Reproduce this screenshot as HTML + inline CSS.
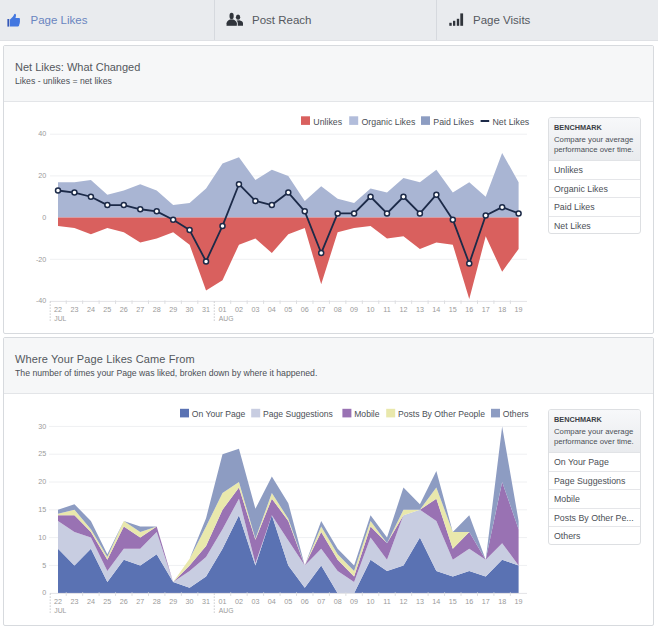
<!DOCTYPE html>
<html><head><meta charset="utf-8"><style>
*{box-sizing:border-box}
html,body{margin:0;padding:0;width:658px;height:632px;overflow:hidden;background:#fff;font-family:"Liberation Sans", sans-serif}
.tabs{position:absolute;left:0;top:0;width:658px;height:41px;background:#e9ebee;border-bottom:1px solid #dfe1e5}
.div{position:absolute;top:0;width:1px;height:40px;background:#d6d9de}
.tt{position:absolute;top:13px;font-size:11.5px;line-height:14px;color:#55595f;white-space:nowrap}
.ic{position:absolute}
.panel{position:absolute;left:3px;width:651px;height:289px;border:1px solid #d7dade;border-radius:2px;background:#fff}
.ph{position:absolute;left:0;top:0;width:649px;height:56px;background:#f6f7f8;border-bottom:1px solid #e3e5e8}
.pt{position:absolute;left:11px;font-size:11px;color:#54575d;white-space:nowrap}
.ps{position:absolute;left:11px;font-size:8.7px;color:#4b4f56;white-space:nowrap}
.bm{position:absolute;left:548px;width:93px;border:1px solid #dddfe2;border-radius:3px;background:#fff;overflow:hidden}
.bmh{height:43px;background:linear-gradient(#f7f8fa,#e9ebee);border-bottom:1px solid #e1e3e6;padding:5px 0 0 5px;color:#4b4f56}
.bmh b{display:block;font-size:7.3px;line-height:9px;color:#3b3f46;letter-spacing:0}
.bmh span{display:block;font-size:7.75px;line-height:10px;margin-top:3px}
.bmr{height:18.6px;line-height:18px;border-bottom:1px solid #e5e6e9;padding-left:5px;font-size:8.8px;color:#4b4f56;white-space:nowrap}
.bmr:last-child{border-bottom:0}
svg.main{position:absolute;left:0;top:0}
svg text{font-family:"Liberation Sans", sans-serif}
</style></head><body>
<div class="tabs">
<div class="div" style="left:214px"></div><div class="div" style="left:436px"></div>
</div>
<svg class="ic" style="left:6px;top:13px" width="16" height="15" viewBox="0 0 16 15">
<rect x="1.4" y="6" width="1.9" height="7.6" fill="#3558b8"/>
<path d="M4 6.4 L6.8 3.8 Q7.8 2.6 8.2 1.2 Q8.6 0.6 9.2 0.8 Q10.2 1.3 10 2.8 L9.5 5 L13.2 5 Q14.2 5.2 14 6.2 L13.8 7.2 Q14.2 7.6 13.9 8.4 Q14.1 9 13.7 9.7 Q13.9 10.4 13.4 11 L13 12.8 Q12.7 13.6 11.8 13.6 L4 13.6 Z" fill="#4377e0"/>
</svg><svg class="ic" style="left:225px;top:12px" width="20" height="15" viewBox="0 0 20 15">
<ellipse cx="13.05" cy="5.15" rx="2.15" ry="2.6" fill="#30343b"/>
<path d="M12.7 13.7 L12.7 11.2 C12.7 10 12.2 9.1 11.5 8.5 L14.5 8.2 C16 8.6 18 9.4 18 11.2 L18 13.7 Z" fill="#30343b"/>
<path d="M1.6 13.7 L1.6 11.2 C1.6 9.2 3.6 8.1 5.2 7.4 L8 7.4 C9.6 8.1 11.8 9.2 11.8 11.2 L11.8 13.7 Z" fill="#30343b" stroke="#e9ebee" stroke-width="0.9"/>
<path d="M1.6 13.7 L1.6 11.2 C1.6 9.2 3.6 8.1 5.2 7.4 L8 7.4 C9.6 8.1 11.8 9.2 11.8 11.2 L11.8 13.7 Z" fill="#30343b"/>
<ellipse cx="6.6" cy="4.0" rx="2.1" ry="3.3" fill="#30343b"/>
</svg><svg class="ic" style="left:448px;top:12px" width="17" height="15" viewBox="0 0 17 15">
<rect x="1.3" y="10.8" width="2.4" height="3" fill="#30343b"/>
<rect x="5" y="8.8" width="2.3" height="5" fill="#30343b"/>
<rect x="8.8" y="6.8" width="2.4" height="7" fill="#30343b"/>
<rect x="12.3" y="1.4" width="2.8" height="12.4" fill="#30343b"/>
</svg>
<div class="tt" style="left:30.5px;color:#6985c0">Page Likes</div>
<div class="tt" style="left:252px">Post Reach</div>
<div class="tt" style="left:473px">Page Visits</div>
<div class="panel" style="top:45px"><div class="ph"></div>
<div class="pt" style="top:15px">Net Likes: What Changed</div>
<div class="ps" style="top:29.5px">Likes - unlikes = net likes</div>
</div>
<div class="panel" style="top:337px"><div class="ph"></div>
<div class="pt" style="top:15px;letter-spacing:0.12px">Where Your Page Likes Came From</div>
<div class="ps" style="top:29.5px">The number of times your Page was liked, broken down by where it happened.</div>
</div>
<div class="bm" style="top:117px;height:117.4px"><div class="bmh"><b>BENCHMARK</b><span>Compare your average<br>performance over time.</span></div><div class="bmr">Unlikes</div><div class="bmr">Organic Likes</div><div class="bmr">Paid Likes</div><div class="bmr">Net Likes</div></div>
<div class="bm" style="top:409px;height:136px"><div class="bmh"><b>BENCHMARK</b><span>Compare your average<br>performance over time.</span></div><div class="bmr">On Your Page</div><div class="bmr">Page Suggestions</div><div class="bmr">Mobile</div><div class="bmr">Posts By Other Pe...</div><div class="bmr">Others</div></div>
<svg class="main" width="658" height="632" viewBox="0 0 658 632">
<line x1="50" y1="134.2" x2="527" y2="134.2" stroke="#eff0f2" stroke-width="1"/>
<line x1="50" y1="175.9" x2="527" y2="175.9" stroke="#eff0f2" stroke-width="1"/>
<line x1="50" y1="259.3" x2="527" y2="259.3" stroke="#eff0f2" stroke-width="1"/>
<text x="46.3" y="136.4" text-anchor="end" font-size="7.2" fill="#9a9a9a">40</text>
<text x="46.3" y="178.1" text-anchor="end" font-size="7.2" fill="#9a9a9a">20</text>
<text x="46.3" y="219.8" text-anchor="end" font-size="7.2" fill="#9a9a9a">0</text>
<text x="46.3" y="261.5" text-anchor="end" font-size="7.2" fill="#9a9a9a">-20</text>
<text x="46.3" y="303.2" text-anchor="end" font-size="7.2" fill="#9a9a9a">-40</text>
<path d="M58 182.16 L74.45 182.16 L90.9 180.07 L107.35 194.66 L123.8 190.5 L140.25 184.24 L156.7 190.5 L173.15 205.09 L189.6 203 L206.05 188.41 L222.5 163.39 L238.95 157.13 L255.4 180.07 L271.85 169.64 L288.3 175.9 L304.75 200.92 L321.2 186.32 L337.65 198.83 L354.1 203 L370.55 188.41 L387 192.58 L403.45 177.98 L419.9 182.16 L436.35 169.64 L452.8 192.58 L469.25 182.16 L485.7 196.75 L502.15 152.96 L518.6 182.16 L518.6 217.6 L502.15 217.6 L485.7 217.6 L469.25 217.6 L452.8 217.6 L436.35 217.6 L419.9 217.6 L403.45 217.6 L387 217.6 L370.55 217.6 L354.1 217.6 L337.65 217.6 L321.2 217.6 L304.75 217.6 L288.3 217.6 L271.85 217.6 L255.4 217.6 L238.95 217.6 L222.5 217.6 L206.05 217.6 L189.6 217.6 L173.15 217.6 L156.7 217.6 L140.25 217.6 L123.8 217.6 L107.35 217.6 L90.9 217.6 L74.45 217.6 L58 217.6 Z" fill="#a9b5d3"/>
<path d="M58 217.6 L74.45 217.6 L90.9 217.6 L107.35 217.6 L123.8 217.6 L140.25 217.6 L156.7 217.6 L173.15 217.6 L189.6 217.6 L206.05 217.6 L222.5 217.6 L238.95 217.6 L255.4 217.6 L271.85 217.6 L288.3 217.6 L304.75 217.6 L321.2 217.6 L337.65 217.6 L354.1 217.6 L370.55 217.6 L387 217.6 L403.45 217.6 L419.9 217.6 L436.35 217.6 L452.8 217.6 L469.25 217.6 L485.7 217.6 L502.15 217.6 L518.6 217.6 L518.6 248.88 L502.15 271.81 L485.7 236.37 L469.25 298.91 L452.8 244.7 L436.35 242.62 L419.9 248.88 L403.45 236.37 L387 238.45 L370.55 225.94 L354.1 228.03 L337.65 232.19 L321.2 284.32 L304.75 228.03 L288.3 234.28 L271.85 253.04 L255.4 238.45 L238.95 244.7 L222.5 280.15 L206.05 290.57 L189.6 244.7 L173.15 232.19 L156.7 238.45 L140.25 242.62 L123.8 232.19 L107.35 228.03 L90.9 234.28 L74.45 228.03 L58 225.94 Z" fill="#d9605e"/>
<path d="M58 190.5 L74.45 192.58 L90.9 196.75 L107.35 205.09 L123.8 205.09 L140.25 209.26 L156.7 211.34 L173.15 219.69 L189.6 230.11 L206.05 261.38 L222.5 225.94 L238.95 184.24 L255.4 200.92 L271.85 205.09 L288.3 192.58 L304.75 211.34 L321.2 253.04 L337.65 213.43 L354.1 213.43 L370.55 196.75 L387 213.43 L403.45 196.75 L419.9 213.43 L436.35 194.66 L452.8 219.69 L469.25 263.47 L485.7 215.51 L502.15 207.17 L518.6 213.43" fill="none" stroke="#1c2a48" stroke-width="1.8" stroke-linejoin="round"/>
<circle cx="58" cy="190.5" r="2.5" fill="#fff" stroke="#1c2a48" stroke-width="1.5"/>
<circle cx="74.45" cy="192.58" r="2.5" fill="#fff" stroke="#1c2a48" stroke-width="1.5"/>
<circle cx="90.9" cy="196.75" r="2.5" fill="#fff" stroke="#1c2a48" stroke-width="1.5"/>
<circle cx="107.35" cy="205.09" r="2.5" fill="#fff" stroke="#1c2a48" stroke-width="1.5"/>
<circle cx="123.8" cy="205.09" r="2.5" fill="#fff" stroke="#1c2a48" stroke-width="1.5"/>
<circle cx="140.25" cy="209.26" r="2.5" fill="#fff" stroke="#1c2a48" stroke-width="1.5"/>
<circle cx="156.7" cy="211.34" r="2.5" fill="#fff" stroke="#1c2a48" stroke-width="1.5"/>
<circle cx="173.15" cy="219.69" r="2.5" fill="#fff" stroke="#1c2a48" stroke-width="1.5"/>
<circle cx="189.6" cy="230.11" r="2.5" fill="#fff" stroke="#1c2a48" stroke-width="1.5"/>
<circle cx="206.05" cy="261.38" r="2.5" fill="#fff" stroke="#1c2a48" stroke-width="1.5"/>
<circle cx="222.5" cy="225.94" r="2.5" fill="#fff" stroke="#1c2a48" stroke-width="1.5"/>
<circle cx="238.95" cy="184.24" r="2.5" fill="#fff" stroke="#1c2a48" stroke-width="1.5"/>
<circle cx="255.4" cy="200.92" r="2.5" fill="#fff" stroke="#1c2a48" stroke-width="1.5"/>
<circle cx="271.85" cy="205.09" r="2.5" fill="#fff" stroke="#1c2a48" stroke-width="1.5"/>
<circle cx="288.3" cy="192.58" r="2.5" fill="#fff" stroke="#1c2a48" stroke-width="1.5"/>
<circle cx="304.75" cy="211.34" r="2.5" fill="#fff" stroke="#1c2a48" stroke-width="1.5"/>
<circle cx="321.2" cy="253.04" r="2.5" fill="#fff" stroke="#1c2a48" stroke-width="1.5"/>
<circle cx="337.65" cy="213.43" r="2.5" fill="#fff" stroke="#1c2a48" stroke-width="1.5"/>
<circle cx="354.1" cy="213.43" r="2.5" fill="#fff" stroke="#1c2a48" stroke-width="1.5"/>
<circle cx="370.55" cy="196.75" r="2.5" fill="#fff" stroke="#1c2a48" stroke-width="1.5"/>
<circle cx="387" cy="213.43" r="2.5" fill="#fff" stroke="#1c2a48" stroke-width="1.5"/>
<circle cx="403.45" cy="196.75" r="2.5" fill="#fff" stroke="#1c2a48" stroke-width="1.5"/>
<circle cx="419.9" cy="213.43" r="2.5" fill="#fff" stroke="#1c2a48" stroke-width="1.5"/>
<circle cx="436.35" cy="194.66" r="2.5" fill="#fff" stroke="#1c2a48" stroke-width="1.5"/>
<circle cx="452.8" cy="219.69" r="2.5" fill="#fff" stroke="#1c2a48" stroke-width="1.5"/>
<circle cx="469.25" cy="263.47" r="2.5" fill="#fff" stroke="#1c2a48" stroke-width="1.5"/>
<circle cx="485.7" cy="215.51" r="2.5" fill="#fff" stroke="#1c2a48" stroke-width="1.5"/>
<circle cx="502.15" cy="207.17" r="2.5" fill="#fff" stroke="#1c2a48" stroke-width="1.5"/>
<circle cx="518.6" cy="213.43" r="2.5" fill="#fff" stroke="#1c2a48" stroke-width="1.5"/>
<line x1="50" y1="301.4" x2="527" y2="301.4" stroke="#e3e4e7" stroke-width="1"/>
<line x1="66.22" y1="300.4" x2="66.22" y2="303.9" stroke="#dcdde0" stroke-width="1"/>
<line x1="82.67" y1="300.4" x2="82.67" y2="303.9" stroke="#dcdde0" stroke-width="1"/>
<line x1="99.12" y1="300.4" x2="99.12" y2="303.9" stroke="#dcdde0" stroke-width="1"/>
<line x1="115.57" y1="300.4" x2="115.57" y2="303.9" stroke="#dcdde0" stroke-width="1"/>
<line x1="132.02" y1="300.4" x2="132.02" y2="303.9" stroke="#dcdde0" stroke-width="1"/>
<line x1="148.47" y1="300.4" x2="148.47" y2="303.9" stroke="#dcdde0" stroke-width="1"/>
<line x1="164.92" y1="300.4" x2="164.92" y2="303.9" stroke="#dcdde0" stroke-width="1"/>
<line x1="181.37" y1="300.4" x2="181.37" y2="303.9" stroke="#dcdde0" stroke-width="1"/>
<line x1="197.82" y1="300.4" x2="197.82" y2="303.9" stroke="#dcdde0" stroke-width="1"/>
<line x1="230.72" y1="300.4" x2="230.72" y2="303.9" stroke="#dcdde0" stroke-width="1"/>
<line x1="247.17" y1="300.4" x2="247.17" y2="303.9" stroke="#dcdde0" stroke-width="1"/>
<line x1="263.62" y1="300.4" x2="263.62" y2="303.9" stroke="#dcdde0" stroke-width="1"/>
<line x1="280.07" y1="300.4" x2="280.07" y2="303.9" stroke="#dcdde0" stroke-width="1"/>
<line x1="296.52" y1="300.4" x2="296.52" y2="303.9" stroke="#dcdde0" stroke-width="1"/>
<line x1="312.97" y1="300.4" x2="312.97" y2="303.9" stroke="#dcdde0" stroke-width="1"/>
<line x1="329.42" y1="300.4" x2="329.42" y2="303.9" stroke="#dcdde0" stroke-width="1"/>
<line x1="345.87" y1="300.4" x2="345.87" y2="303.9" stroke="#dcdde0" stroke-width="1"/>
<line x1="362.32" y1="300.4" x2="362.32" y2="303.9" stroke="#dcdde0" stroke-width="1"/>
<line x1="378.77" y1="300.4" x2="378.77" y2="303.9" stroke="#dcdde0" stroke-width="1"/>
<line x1="395.22" y1="300.4" x2="395.22" y2="303.9" stroke="#dcdde0" stroke-width="1"/>
<line x1="411.67" y1="300.4" x2="411.67" y2="303.9" stroke="#dcdde0" stroke-width="1"/>
<line x1="428.12" y1="300.4" x2="428.12" y2="303.9" stroke="#dcdde0" stroke-width="1"/>
<line x1="444.57" y1="300.4" x2="444.57" y2="303.9" stroke="#dcdde0" stroke-width="1"/>
<line x1="461.02" y1="300.4" x2="461.02" y2="303.9" stroke="#dcdde0" stroke-width="1"/>
<line x1="477.47" y1="300.4" x2="477.47" y2="303.9" stroke="#dcdde0" stroke-width="1"/>
<line x1="493.92" y1="300.4" x2="493.92" y2="303.9" stroke="#dcdde0" stroke-width="1"/>
<line x1="510.37" y1="300.4" x2="510.37" y2="303.9" stroke="#dcdde0" stroke-width="1"/>
<line x1="50.2" y1="301.4" x2="50.2" y2="321.4" stroke="#c9cacd" stroke-width="1" stroke-dasharray="1.5 1.5"/>
<line x1="214.27" y1="301.4" x2="214.27" y2="321.4" stroke="#c9cacd" stroke-width="1" stroke-dasharray="1.5 1.5"/>
<text x="58" y="312" text-anchor="middle" font-size="7.2" fill="#9a9a9a">22</text>
<text x="74.45" y="312" text-anchor="middle" font-size="7.2" fill="#9a9a9a">23</text>
<text x="90.9" y="312" text-anchor="middle" font-size="7.2" fill="#9a9a9a">24</text>
<text x="107.35" y="312" text-anchor="middle" font-size="7.2" fill="#9a9a9a">25</text>
<text x="123.8" y="312" text-anchor="middle" font-size="7.2" fill="#9a9a9a">26</text>
<text x="140.25" y="312" text-anchor="middle" font-size="7.2" fill="#9a9a9a">27</text>
<text x="156.7" y="312" text-anchor="middle" font-size="7.2" fill="#9a9a9a">28</text>
<text x="173.15" y="312" text-anchor="middle" font-size="7.2" fill="#9a9a9a">29</text>
<text x="189.6" y="312" text-anchor="middle" font-size="7.2" fill="#9a9a9a">30</text>
<text x="206.05" y="312" text-anchor="middle" font-size="7.2" fill="#9a9a9a">31</text>
<text x="222.5" y="312" text-anchor="middle" font-size="7.2" fill="#9a9a9a">01</text>
<text x="238.95" y="312" text-anchor="middle" font-size="7.2" fill="#9a9a9a">02</text>
<text x="255.4" y="312" text-anchor="middle" font-size="7.2" fill="#9a9a9a">03</text>
<text x="271.85" y="312" text-anchor="middle" font-size="7.2" fill="#9a9a9a">04</text>
<text x="288.3" y="312" text-anchor="middle" font-size="7.2" fill="#9a9a9a">05</text>
<text x="304.75" y="312" text-anchor="middle" font-size="7.2" fill="#9a9a9a">06</text>
<text x="321.2" y="312" text-anchor="middle" font-size="7.2" fill="#9a9a9a">07</text>
<text x="337.65" y="312" text-anchor="middle" font-size="7.2" fill="#9a9a9a">08</text>
<text x="354.1" y="312" text-anchor="middle" font-size="7.2" fill="#9a9a9a">09</text>
<text x="370.55" y="312" text-anchor="middle" font-size="7.2" fill="#9a9a9a">10</text>
<text x="387" y="312" text-anchor="middle" font-size="7.2" fill="#9a9a9a">11</text>
<text x="403.45" y="312" text-anchor="middle" font-size="7.2" fill="#9a9a9a">12</text>
<text x="419.9" y="312" text-anchor="middle" font-size="7.2" fill="#9a9a9a">13</text>
<text x="436.35" y="312" text-anchor="middle" font-size="7.2" fill="#9a9a9a">14</text>
<text x="452.8" y="312" text-anchor="middle" font-size="7.2" fill="#9a9a9a">15</text>
<text x="469.25" y="312" text-anchor="middle" font-size="7.2" fill="#9a9a9a">16</text>
<text x="485.7" y="312" text-anchor="middle" font-size="7.2" fill="#9a9a9a">17</text>
<text x="502.15" y="312" text-anchor="middle" font-size="7.2" fill="#9a9a9a">18</text>
<text x="518.6" y="312" text-anchor="middle" font-size="7.2" fill="#9a9a9a">19</text>
<text x="54.3" y="321.2" font-size="6.8" fill="#9a9a9a">JUL</text>
<text x="218.7" y="321.2" font-size="6.8" fill="#9a9a9a">AUG</text>
<line x1="49" y1="426.4" x2="527" y2="426.4" stroke="#eff0f2" stroke-width="1"/>
<line x1="49" y1="454.2" x2="527" y2="454.2" stroke="#eff0f2" stroke-width="1"/>
<line x1="49" y1="482" x2="527" y2="482" stroke="#eff0f2" stroke-width="1"/>
<line x1="49" y1="509.8" x2="527" y2="509.8" stroke="#eff0f2" stroke-width="1"/>
<line x1="49" y1="537.6" x2="527" y2="537.6" stroke="#eff0f2" stroke-width="1"/>
<line x1="49" y1="565.4" x2="527" y2="565.4" stroke="#eff0f2" stroke-width="1"/>
<text x="46.3" y="428.6" text-anchor="end" font-size="7.2" fill="#9a9a9a">30</text>
<text x="46.3" y="456.4" text-anchor="end" font-size="7.2" fill="#9a9a9a">25</text>
<text x="46.3" y="484.2" text-anchor="end" font-size="7.2" fill="#9a9a9a">20</text>
<text x="46.3" y="512" text-anchor="end" font-size="7.2" fill="#9a9a9a">15</text>
<text x="46.3" y="539.8" text-anchor="end" font-size="7.2" fill="#9a9a9a">10</text>
<text x="46.3" y="567.6" text-anchor="end" font-size="7.2" fill="#9a9a9a">5</text>
<text x="46.3" y="595.4" text-anchor="end" font-size="7.2" fill="#9a9a9a">0</text>
<path d="M58 548.72 L74.45 565.4 L90.9 548.72 L107.35 582.08 L123.8 559.84 L140.25 565.4 L156.7 554.28 L173.15 582.08 L189.6 587.64 L206.05 576.52 L222.5 548.72 L238.95 515.36 L255.4 565.4 L271.85 515.36 L288.3 565.4 L304.75 587.64 L321.2 565.4 L337.65 593.2 L354.1 593.2 L370.55 559.84 L387 570.96 L403.45 565.4 L419.9 537.6 L436.35 570.96 L452.8 576.52 L469.25 570.96 L485.7 576.52 L502.15 559.84 L518.6 565.4 L518.6 593.2 L502.15 593.2 L485.7 593.2 L469.25 593.2 L452.8 593.2 L436.35 593.2 L419.9 593.2 L403.45 593.2 L387 593.2 L370.55 593.2 L354.1 593.2 L337.65 593.2 L321.2 593.2 L304.75 593.2 L288.3 593.2 L271.85 593.2 L255.4 593.2 L238.95 593.2 L222.5 593.2 L206.05 593.2 L189.6 593.2 L173.15 593.2 L156.7 593.2 L140.25 593.2 L123.8 593.2 L107.35 593.2 L90.9 593.2 L74.45 593.2 L58 593.2 Z" fill="#5a72b3"/>
<path d="M58 520.92 L74.45 532.04 L90.9 537.6 L107.35 570.96 L123.8 548.72 L140.25 548.72 L156.7 532.04 L173.15 582.08 L189.6 570.96 L206.05 557.06 L222.5 529.26 L238.95 498.68 L255.4 563.18 L271.85 515.36 L288.3 540.38 L304.75 565.4 L321.2 548.72 L337.65 570.96 L354.1 582.08 L370.55 537.6 L387 559.84 L403.45 515.36 L419.9 509.8 L436.35 520.92 L452.8 559.84 L469.25 548.72 L485.7 559.84 L502.15 543.16 L518.6 565.4 L518.6 565.4 L502.15 559.84 L485.7 576.52 L469.25 570.96 L452.8 576.52 L436.35 570.96 L419.9 537.6 L403.45 565.4 L387 570.96 L370.55 559.84 L354.1 593.2 L337.65 593.2 L321.2 565.4 L304.75 587.64 L288.3 565.4 L271.85 515.36 L255.4 565.4 L238.95 515.36 L222.5 548.72 L206.05 576.52 L189.6 587.64 L173.15 582.08 L156.7 554.28 L140.25 565.4 L123.8 559.84 L107.35 582.08 L90.9 548.72 L74.45 565.4 L58 548.72 Z" fill="#c8cde1"/>
<path d="M58 515.36 L74.45 515.36 L90.9 532.04 L107.35 559.84 L123.8 526.48 L140.25 537.6 L156.7 526.48 L173.15 582.08 L189.6 565.4 L206.05 545.94 L222.5 509.8 L238.95 487.56 L255.4 539.82 L271.85 498.68 L288.3 520.92 L304.75 565.4 L321.2 532.04 L337.65 559.84 L354.1 576.52 L370.55 526.48 L387 543.16 L403.45 515.36 L419.9 509.8 L436.35 498.68 L452.8 548.72 L469.25 532.04 L485.7 559.84 L502.15 482 L518.6 529.26 L518.6 565.4 L502.15 543.16 L485.7 559.84 L469.25 548.72 L452.8 559.84 L436.35 520.92 L419.9 509.8 L403.45 515.36 L387 559.84 L370.55 537.6 L354.1 582.08 L337.65 570.96 L321.2 548.72 L304.75 565.4 L288.3 540.38 L271.85 515.36 L255.4 563.18 L238.95 498.68 L222.5 529.26 L206.05 557.06 L189.6 570.96 L173.15 582.08 L156.7 532.04 L140.25 548.72 L123.8 548.72 L107.35 570.96 L90.9 537.6 L74.45 532.04 L58 520.92 Z" fill="#9972b3"/>
<path d="M58 513.69 L74.45 509.8 L90.9 529.26 L107.35 557.06 L123.8 520.92 L140.25 532.04 L156.7 526.48 L173.15 582.08 L189.6 558.73 L206.05 526.48 L222.5 493.12 L238.95 482 L255.4 538.71 L271.85 493.12 L288.3 518.7 L304.75 565.4 L321.2 526.48 L337.65 554.28 L354.1 570.96 L370.55 520.92 L387 543.16 L403.45 509.8 L419.9 509.8 L436.35 487.56 L452.8 532.04 L469.25 532.04 L485.7 559.84 L502.15 482 L518.6 529.26 L518.6 529.26 L502.15 482 L485.7 559.84 L469.25 532.04 L452.8 548.72 L436.35 498.68 L419.9 509.8 L403.45 515.36 L387 543.16 L370.55 526.48 L354.1 576.52 L337.65 559.84 L321.2 532.04 L304.75 565.4 L288.3 520.92 L271.85 498.68 L255.4 539.82 L238.95 487.56 L222.5 509.8 L206.05 545.94 L189.6 565.4 L173.15 582.08 L156.7 526.48 L140.25 537.6 L123.8 526.48 L107.35 559.84 L90.9 532.04 L74.45 515.36 L58 515.36 Z" fill="#e9e8ac"/>
<path d="M58 509.8 L74.45 504.24 L90.9 520.92 L107.35 554.28 L123.8 520.92 L140.25 526.48 L156.7 526.48 L173.15 582.08 L189.6 558.73 L206.05 518.14 L222.5 454.2 L238.95 448.64 L255.4 508.69 L271.85 476.44 L288.3 503.13 L304.75 565.4 L321.2 520.92 L337.65 548.72 L354.1 565.4 L370.55 515.36 L387 537.6 L403.45 487.56 L419.9 504.24 L436.35 470.88 L452.8 532.04 L469.25 515.36 L485.7 559.84 L502.15 426.4 L518.6 520.92 L518.6 529.26 L502.15 482 L485.7 559.84 L469.25 532.04 L452.8 532.04 L436.35 487.56 L419.9 509.8 L403.45 509.8 L387 543.16 L370.55 520.92 L354.1 570.96 L337.65 554.28 L321.2 526.48 L304.75 565.4 L288.3 518.7 L271.85 493.12 L255.4 538.71 L238.95 482 L222.5 493.12 L206.05 526.48 L189.6 558.73 L173.15 582.08 L156.7 526.48 L140.25 532.04 L123.8 520.92 L107.35 557.06 L90.9 529.26 L74.45 509.8 L58 513.69 Z" fill="#8d9cc2"/>
<line x1="50" y1="593.4" x2="527" y2="593.4" stroke="#e3e4e7" stroke-width="1"/>
<line x1="66.22" y1="592.4" x2="66.22" y2="595.9" stroke="#dcdde0" stroke-width="1"/>
<line x1="82.67" y1="592.4" x2="82.67" y2="595.9" stroke="#dcdde0" stroke-width="1"/>
<line x1="99.12" y1="592.4" x2="99.12" y2="595.9" stroke="#dcdde0" stroke-width="1"/>
<line x1="115.57" y1="592.4" x2="115.57" y2="595.9" stroke="#dcdde0" stroke-width="1"/>
<line x1="132.02" y1="592.4" x2="132.02" y2="595.9" stroke="#dcdde0" stroke-width="1"/>
<line x1="148.47" y1="592.4" x2="148.47" y2="595.9" stroke="#dcdde0" stroke-width="1"/>
<line x1="164.92" y1="592.4" x2="164.92" y2="595.9" stroke="#dcdde0" stroke-width="1"/>
<line x1="181.37" y1="592.4" x2="181.37" y2="595.9" stroke="#dcdde0" stroke-width="1"/>
<line x1="197.82" y1="592.4" x2="197.82" y2="595.9" stroke="#dcdde0" stroke-width="1"/>
<line x1="230.72" y1="592.4" x2="230.72" y2="595.9" stroke="#dcdde0" stroke-width="1"/>
<line x1="247.17" y1="592.4" x2="247.17" y2="595.9" stroke="#dcdde0" stroke-width="1"/>
<line x1="263.62" y1="592.4" x2="263.62" y2="595.9" stroke="#dcdde0" stroke-width="1"/>
<line x1="280.07" y1="592.4" x2="280.07" y2="595.9" stroke="#dcdde0" stroke-width="1"/>
<line x1="296.52" y1="592.4" x2="296.52" y2="595.9" stroke="#dcdde0" stroke-width="1"/>
<line x1="312.97" y1="592.4" x2="312.97" y2="595.9" stroke="#dcdde0" stroke-width="1"/>
<line x1="329.42" y1="592.4" x2="329.42" y2="595.9" stroke="#dcdde0" stroke-width="1"/>
<line x1="345.87" y1="592.4" x2="345.87" y2="595.9" stroke="#dcdde0" stroke-width="1"/>
<line x1="362.32" y1="592.4" x2="362.32" y2="595.9" stroke="#dcdde0" stroke-width="1"/>
<line x1="378.77" y1="592.4" x2="378.77" y2="595.9" stroke="#dcdde0" stroke-width="1"/>
<line x1="395.22" y1="592.4" x2="395.22" y2="595.9" stroke="#dcdde0" stroke-width="1"/>
<line x1="411.67" y1="592.4" x2="411.67" y2="595.9" stroke="#dcdde0" stroke-width="1"/>
<line x1="428.12" y1="592.4" x2="428.12" y2="595.9" stroke="#dcdde0" stroke-width="1"/>
<line x1="444.57" y1="592.4" x2="444.57" y2="595.9" stroke="#dcdde0" stroke-width="1"/>
<line x1="461.02" y1="592.4" x2="461.02" y2="595.9" stroke="#dcdde0" stroke-width="1"/>
<line x1="477.47" y1="592.4" x2="477.47" y2="595.9" stroke="#dcdde0" stroke-width="1"/>
<line x1="493.92" y1="592.4" x2="493.92" y2="595.9" stroke="#dcdde0" stroke-width="1"/>
<line x1="510.37" y1="592.4" x2="510.37" y2="595.9" stroke="#dcdde0" stroke-width="1"/>
<line x1="50.2" y1="593.4" x2="50.2" y2="613.4" stroke="#c9cacd" stroke-width="1" stroke-dasharray="1.5 1.5"/>
<line x1="214.27" y1="593.4" x2="214.27" y2="613.4" stroke="#c9cacd" stroke-width="1" stroke-dasharray="1.5 1.5"/>
<text x="58" y="604" text-anchor="middle" font-size="7.2" fill="#9a9a9a">22</text>
<text x="74.45" y="604" text-anchor="middle" font-size="7.2" fill="#9a9a9a">23</text>
<text x="90.9" y="604" text-anchor="middle" font-size="7.2" fill="#9a9a9a">24</text>
<text x="107.35" y="604" text-anchor="middle" font-size="7.2" fill="#9a9a9a">25</text>
<text x="123.8" y="604" text-anchor="middle" font-size="7.2" fill="#9a9a9a">26</text>
<text x="140.25" y="604" text-anchor="middle" font-size="7.2" fill="#9a9a9a">27</text>
<text x="156.7" y="604" text-anchor="middle" font-size="7.2" fill="#9a9a9a">28</text>
<text x="173.15" y="604" text-anchor="middle" font-size="7.2" fill="#9a9a9a">29</text>
<text x="189.6" y="604" text-anchor="middle" font-size="7.2" fill="#9a9a9a">30</text>
<text x="206.05" y="604" text-anchor="middle" font-size="7.2" fill="#9a9a9a">31</text>
<text x="222.5" y="604" text-anchor="middle" font-size="7.2" fill="#9a9a9a">01</text>
<text x="238.95" y="604" text-anchor="middle" font-size="7.2" fill="#9a9a9a">02</text>
<text x="255.4" y="604" text-anchor="middle" font-size="7.2" fill="#9a9a9a">03</text>
<text x="271.85" y="604" text-anchor="middle" font-size="7.2" fill="#9a9a9a">04</text>
<text x="288.3" y="604" text-anchor="middle" font-size="7.2" fill="#9a9a9a">05</text>
<text x="304.75" y="604" text-anchor="middle" font-size="7.2" fill="#9a9a9a">06</text>
<text x="321.2" y="604" text-anchor="middle" font-size="7.2" fill="#9a9a9a">07</text>
<text x="337.65" y="604" text-anchor="middle" font-size="7.2" fill="#9a9a9a">08</text>
<text x="354.1" y="604" text-anchor="middle" font-size="7.2" fill="#9a9a9a">09</text>
<text x="370.55" y="604" text-anchor="middle" font-size="7.2" fill="#9a9a9a">10</text>
<text x="387" y="604" text-anchor="middle" font-size="7.2" fill="#9a9a9a">11</text>
<text x="403.45" y="604" text-anchor="middle" font-size="7.2" fill="#9a9a9a">12</text>
<text x="419.9" y="604" text-anchor="middle" font-size="7.2" fill="#9a9a9a">13</text>
<text x="436.35" y="604" text-anchor="middle" font-size="7.2" fill="#9a9a9a">14</text>
<text x="452.8" y="604" text-anchor="middle" font-size="7.2" fill="#9a9a9a">15</text>
<text x="469.25" y="604" text-anchor="middle" font-size="7.2" fill="#9a9a9a">16</text>
<text x="485.7" y="604" text-anchor="middle" font-size="7.2" fill="#9a9a9a">17</text>
<text x="502.15" y="604" text-anchor="middle" font-size="7.2" fill="#9a9a9a">18</text>
<text x="518.6" y="604" text-anchor="middle" font-size="7.2" fill="#9a9a9a">19</text>
<text x="54.3" y="613.2" font-size="6.8" fill="#9a9a9a">JUL</text>
<text x="218.7" y="613.2" font-size="6.8" fill="#9a9a9a">AUG</text>
<rect x="301" y="116.3" width="9" height="8.6" fill="#d9605e"/>
<text x="313.3" y="124.6" font-size="8.8" fill="#4b4f56">Unlikes</text>
<rect x="349.2" y="116.3" width="9" height="8.6" fill="#b2bddb"/>
<text x="361.5" y="124.6" font-size="8.8" fill="#4b4f56">Organic Likes</text>
<rect x="421" y="116.3" width="9" height="8.6" fill="#8d9dc2"/>
<text x="433.3" y="124.6" font-size="8.8" fill="#4b4f56">Paid Likes</text>
<rect x="480.6" y="120" width="8.6" height="2" fill="#1c2a48"/>
<text x="492.5" y="124.6" font-size="8.8" fill="#4b4f56">Net Likes</text>
<rect x="180" y="408.8" width="9" height="8.6" fill="#5a72b3"/>
<text x="191.8" y="417.2" font-size="8.6" fill="#4b4f56">On Your Page</text>
<rect x="251.2" y="408.8" width="9" height="8.6" fill="#c8cde1"/>
<text x="263" y="417.2" font-size="8.6" fill="#4b4f56">Page Suggestions</text>
<rect x="342.4" y="408.8" width="9" height="8.6" fill="#9972b3"/>
<text x="354.2" y="417.2" font-size="8.6" fill="#4b4f56">Mobile</text>
<rect x="386.2" y="408.8" width="9" height="8.6" fill="#e9e8ac"/>
<text x="398" y="417.2" font-size="8.6" fill="#4b4f56">Posts By Other People</text>
<rect x="491" y="408.8" width="9" height="8.6" fill="#8d9cc2"/>
<text x="502.8" y="417.2" font-size="8.6" fill="#4b4f56">Others</text>
</svg>
</body></html>
